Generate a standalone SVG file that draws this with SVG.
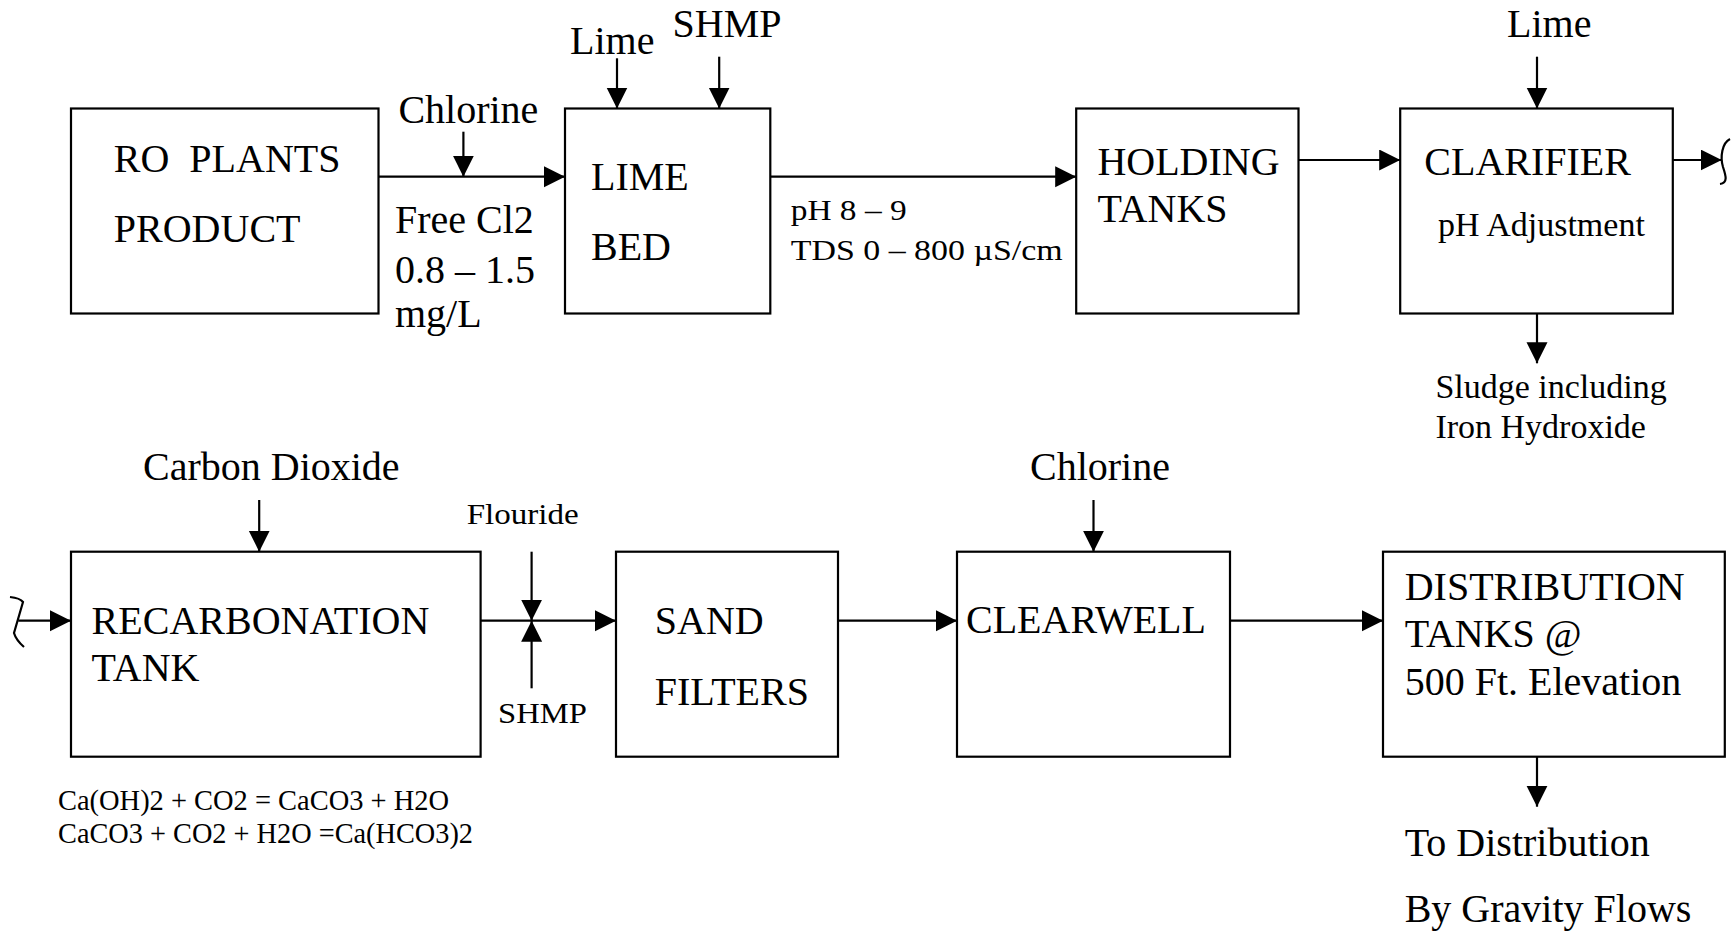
<svg xmlns="http://www.w3.org/2000/svg" width="1736" height="937" viewBox="0 0 1736 937">
<style>
text{font-family:"Liberation Serif","Times New Roman",serif;fill:#000}
.big{font-size:40px}
.med{font-size:34px}
.sm{font-size:30px}
.box{fill:#fff;stroke:#000;stroke-width:2.2}
.ln{fill:none;stroke:#000;stroke-width:2.2}
</style>
<defs>
<marker id="ah" markerUnits="userSpaceOnUse" markerWidth="22" markerHeight="22" refX="21" refY="10.5" orient="auto">
<path d="M0,0 L21,10.5 L0,21 z" fill="#000"/>
</marker>
</defs>
<rect width="1736" height="937" fill="#fff"/>

<g id="connectors">
<line class="ln" x1="378.5" y1="176.7" x2="565" y2="176.7" marker-end="url(#ah)"/>
<line class="ln" x1="463.4" y1="131.7" x2="463.4" y2="176.7" marker-end="url(#ah)"/>
<line class="ln" x1="617" y1="58.3" x2="617" y2="108.5" marker-end="url(#ah)"/>
<line class="ln" x1="719.2" y1="56.7" x2="719.2" y2="108.5" marker-end="url(#ah)"/>
<line class="ln" x1="770.3" y1="176.7" x2="1076.2" y2="176.7" marker-end="url(#ah)"/>
<line class="ln" x1="1298.5" y1="160" x2="1400.2" y2="160" marker-end="url(#ah)"/>
<line class="ln" x1="1537" y1="56.7" x2="1537" y2="108.5" marker-end="url(#ah)"/>
<line class="ln" x1="1672.8" y1="160" x2="1721.7" y2="160" marker-end="url(#ah)"/>
<path class="ln" d="M1730,139 C1722,143 1720,157 1723,167 C1726,176 1728,183 1720,184"/>
<line class="ln" x1="1537" y1="313.7" x2="1537" y2="363.3" marker-end="url(#ah)"/>
<path class="ln" d="M10,597 Q20,598 23,602 L14,633 Q16,640 24,647"/>
<line class="ln" x1="18.3" y1="620.7" x2="71" y2="620.7" marker-end="url(#ah)"/>
<line class="ln" x1="259.2" y1="500" x2="259.2" y2="551.7" marker-end="url(#ah)"/>
<line class="ln" x1="480.6" y1="620.7" x2="616" y2="620.7" marker-end="url(#ah)"/>
<line class="ln" x1="531.6" y1="551.7" x2="531.6" y2="620.7" marker-end="url(#ah)"/>
<line class="ln" x1="531.6" y1="688.3" x2="531.6" y2="620.7" marker-end="url(#ah)"/>
<line class="ln" x1="1093.5" y1="500" x2="1093.5" y2="551.7" marker-end="url(#ah)"/>
<line class="ln" x1="838" y1="620.7" x2="957" y2="620.7" marker-end="url(#ah)"/>
<line class="ln" x1="1230" y1="620.7" x2="1383" y2="620.7" marker-end="url(#ah)"/>
<line class="ln" x1="1537" y1="756.7" x2="1537" y2="806.7" marker-end="url(#ah)"/>
</g>

<g id="labels">
<text class="big" x="398.4" y="123">Chlorine</text>
<text class="big" x="395" y="233">Free Cl2</text>
<text class="big" x="395" y="283">0.8 – 1.5</text>
<text class="big" x="395" y="327">mg/L</text>
<text class="big" x="570" y="54">Lime</text>
<text class="big" x="672.6" y="37">SHMP</text>
<text class="sm" x="790.7" y="220" textLength="116" lengthAdjust="spacingAndGlyphs">pH 8 – 9</text>
<text class="sm" x="790.7" y="260" textLength="272" lengthAdjust="spacingAndGlyphs">TDS 0 – 800 µS/cm</text>
<text class="big" x="1507" y="37">Lime</text>
<text class="med" x="1435.4" y="398">Sludge including</text>
<text class="med" x="1435.4" y="438">Iron Hydroxide</text>
<text class="big" x="143" y="480">Carbon Dioxide</text>
<text class="sm" x="466.7" y="524" textLength="112" lengthAdjust="spacingAndGlyphs">Flouride</text>
<text class="sm" x="498" y="722.7" textLength="89" lengthAdjust="spacingAndGlyphs">SHMP</text>
<text class="sm" x="58" y="810" textLength="391" lengthAdjust="spacingAndGlyphs">Ca(OH)2 + CO2 = CaCO3 + H2O</text>
<text class="sm" x="58" y="843" textLength="415" lengthAdjust="spacingAndGlyphs">CaCO3 + CO2 + H2O =Ca(HCO3)2</text>
<text class="big" x="1030" y="480">Chlorine</text>
<text class="big" x="1404.7" y="856">To Distribution</text>
<text class="big" x="1404.7" y="922">By Gravity Flows</text>
</g>

<g id="ro-plants">
<rect class="box" x="71" y="108.5" width="307.5" height="205"/>
<text class="big" x="113.8" y="172" xml:space="preserve">RO  PLANTS</text>
<text class="big" x="113.8" y="242">PRODUCT</text>
</g>
<g id="lime-bed">
<rect class="box" x="565" y="108.5" width="205.3" height="205"/>
<text class="big" x="591" y="190">LIME</text>
<text class="big" x="591" y="260">BED</text>
</g>
<g id="holding-tanks">
<rect class="box" x="1076.2" y="108.5" width="222.3" height="205"/>
<text class="big" x="1097.4" y="175">HOLDING</text>
<text class="big" x="1097.4" y="222">TANKS</text>
</g>
<g id="clarifier">
<rect class="box" x="1400.2" y="108.5" width="272.6" height="205"/>
<text class="big" x="1424.3" y="175">CLARIFIER</text>
<text class="med" x="1438" y="236">pH Adjustment</text>
</g>
<g id="recarbonation">
<rect class="box" x="71" y="551.7" width="409.6" height="205"/>
<text class="big" x="91.6" y="634">RECARBONATION</text>
<text class="big" x="91.6" y="681">TANK</text>
</g>
<g id="sand-filters">
<rect class="box" x="616" y="551.7" width="222" height="205"/>
<text class="big" x="654.8" y="634">SAND</text>
<text class="big" x="654.8" y="705">FILTERS</text>
</g>
<g id="clearwell">
<rect class="box" x="957" y="551.7" width="273" height="205"/>
<text class="big" x="966" y="633">CLEARWELL</text>
</g>
<g id="distribution-tanks">
<rect class="box" x="1383" y="551.7" width="341.8" height="205"/>
<text class="big" x="1404.7" y="600">DISTRIBUTION</text>
<text class="big" x="1404.7" y="647">TANKS @</text>
<text class="big" x="1404.7" y="695">500 Ft. Elevation</text>
</g>
</svg>
